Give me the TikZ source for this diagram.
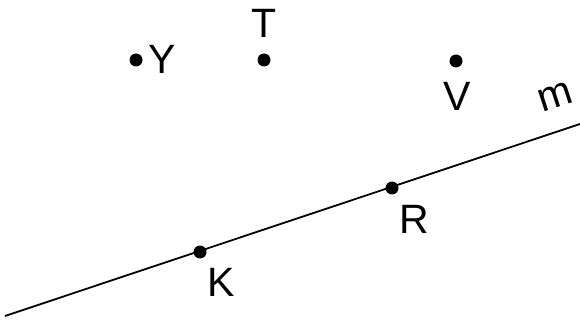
\documentclass[tikz,border=0pt]{standalone}
\usepackage{fontspec}
\setmainfont{Liberation Sans}
\begin{document}
\begin{tikzpicture}[x=1pt,y=-1pt,
  pt/.style={circle,fill=black,inner sep=0pt,minimum size=13pt},
  lbl/.style={inner sep=0pt,font=\fontsize{41}{41}\selectfont}]
\useasboundingbox (0,0) rectangle (580,320);
\coordinate (a) at (5,316);
\coordinate (b) at (580,124);
\draw[line width=1.8pt] (a) -- (b);
\node[pt] (Y) at (136,60) {};
\node[pt] (T) at (264,60) {};
\node[pt] (V) at (456,61) {};
\node[pt] (R) at (392,188) {};
\node[pt] (K) at (200,252) {};
\node[lbl] (lY) at (162,59) {Y};
\node[lbl] (lT) at (264,23) {T};
\node[lbl] (lV) at (457,96) {V};
\node[lbl] (lR) at (414,219) {R};
\node[lbl] (lK) at (221,282) {K};
\node[lbl,rotate=18] (lm) at (555,97) {m};
\end{tikzpicture}
\end{document}
